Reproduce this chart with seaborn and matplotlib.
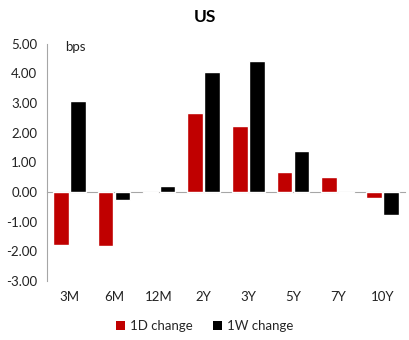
import matplotlib
matplotlib.use("Agg")
import matplotlib.pyplot as plt
import matplotlib.transforms as mtransforms
from matplotlib.patches import Patch
import pandas as pd
import seaborn as sns

tenors = ["3M", "6M", "12M", "2Y", "3Y", "5Y", "7Y", "10Y"]
change_1d = [-1.79, -1.82, -0.05, 2.67, 2.23, 0.68, 0.50, -0.21]
change_1w = [3.07, -0.28, 0.19, 4.05, 4.42, 1.38, -0.05, -0.77]
series_names = ["1D change", "1W change"]
yticks = [-3, -2, -1, 0, 1, 2, 3, 4, 5]

sns.set_style("white")
plt.rcParams["font.family"] = ["Lato", "DejaVu Sans"]

df = pd.DataFrame({
    "tenor": tenors * 2,
    "value": change_1d + change_1w,
    "series": [series_names[0]] * len(tenors) + [series_names[1]] * len(tenors),
})
palette = {series_names[0]: "#C00000", series_names[1]: "#000000"}

fig = plt.figure(figsize=(4.09, 3.40), dpi=100)
ax = fig.add_axes([0.115, 0.174, 0.875, 0.697])

sns.barplot(data=df, x="tenor", y="value", hue="series", palette=palette,
            width=0.76, gap=0.08, saturation=1, legend=False, ax=ax)
for bar in ax.patches:
    bar.set_zorder(3)

ax.set_ylim(-3, 5)
ax.set_xlim(-0.5, len(tenors) - 0.5)
ax.set_yticks(yticks)
ax.set_yticklabels([f"{v:.2f}" for v in yticks], fontsize=9.5, color="#222222")
ax.set_xlabel("")
ax.set_ylabel("")

# category axis sits on the zero line, with tick marks between groups
for side in ("top", "right"):
    ax.spines[side].set_visible(False)
ax.spines["bottom"].set_position(("data", 0))
ax.spines["bottom"].set_color("#a6a6a6")
ax.spines["bottom"].set_zorder(2)
ax.spines["left"].set_color("#a6a6a6")
ax.set_xticks([i - 0.5 for i in range(len(tenors) + 1)])
ax.set_xticklabels([])
ax.tick_params(axis="x", direction="out", length=4, color="#a6a6a6", width=0.8)
ax.tick_params(axis="y", direction="out", length=4, color="#a6a6a6", width=0.8, pad=3)

trans = mtransforms.blended_transform_factory(ax.transData, ax.transAxes)
for i, t in enumerate(tenors):
    ax.text(i, -0.07, t, transform=trans, ha="center", va="center",
            fontsize=9.5, color="#222222")

ax.text(0.05, 0.985, "bps", transform=ax.transAxes, ha="left", va="center",
        fontsize=9.5, color="#222222")

fig.text(0.5, 0.95, "US", ha="center", va="center", fontsize=12.5,
         fontweight="bold", color="#000000")

handles = [Patch(facecolor=palette[s], edgecolor="none", label=s) for s in series_names]
fig.legend(handles=handles, loc="center", bbox_to_anchor=(0.5, 0.04), ncol=2,
           frameon=False, fontsize=9.5, handlelength=0.7, handleheight=0.7,
           handletextpad=0.4, columnspacing=1.5)

fig.savefig("out.png", dpi=100)
